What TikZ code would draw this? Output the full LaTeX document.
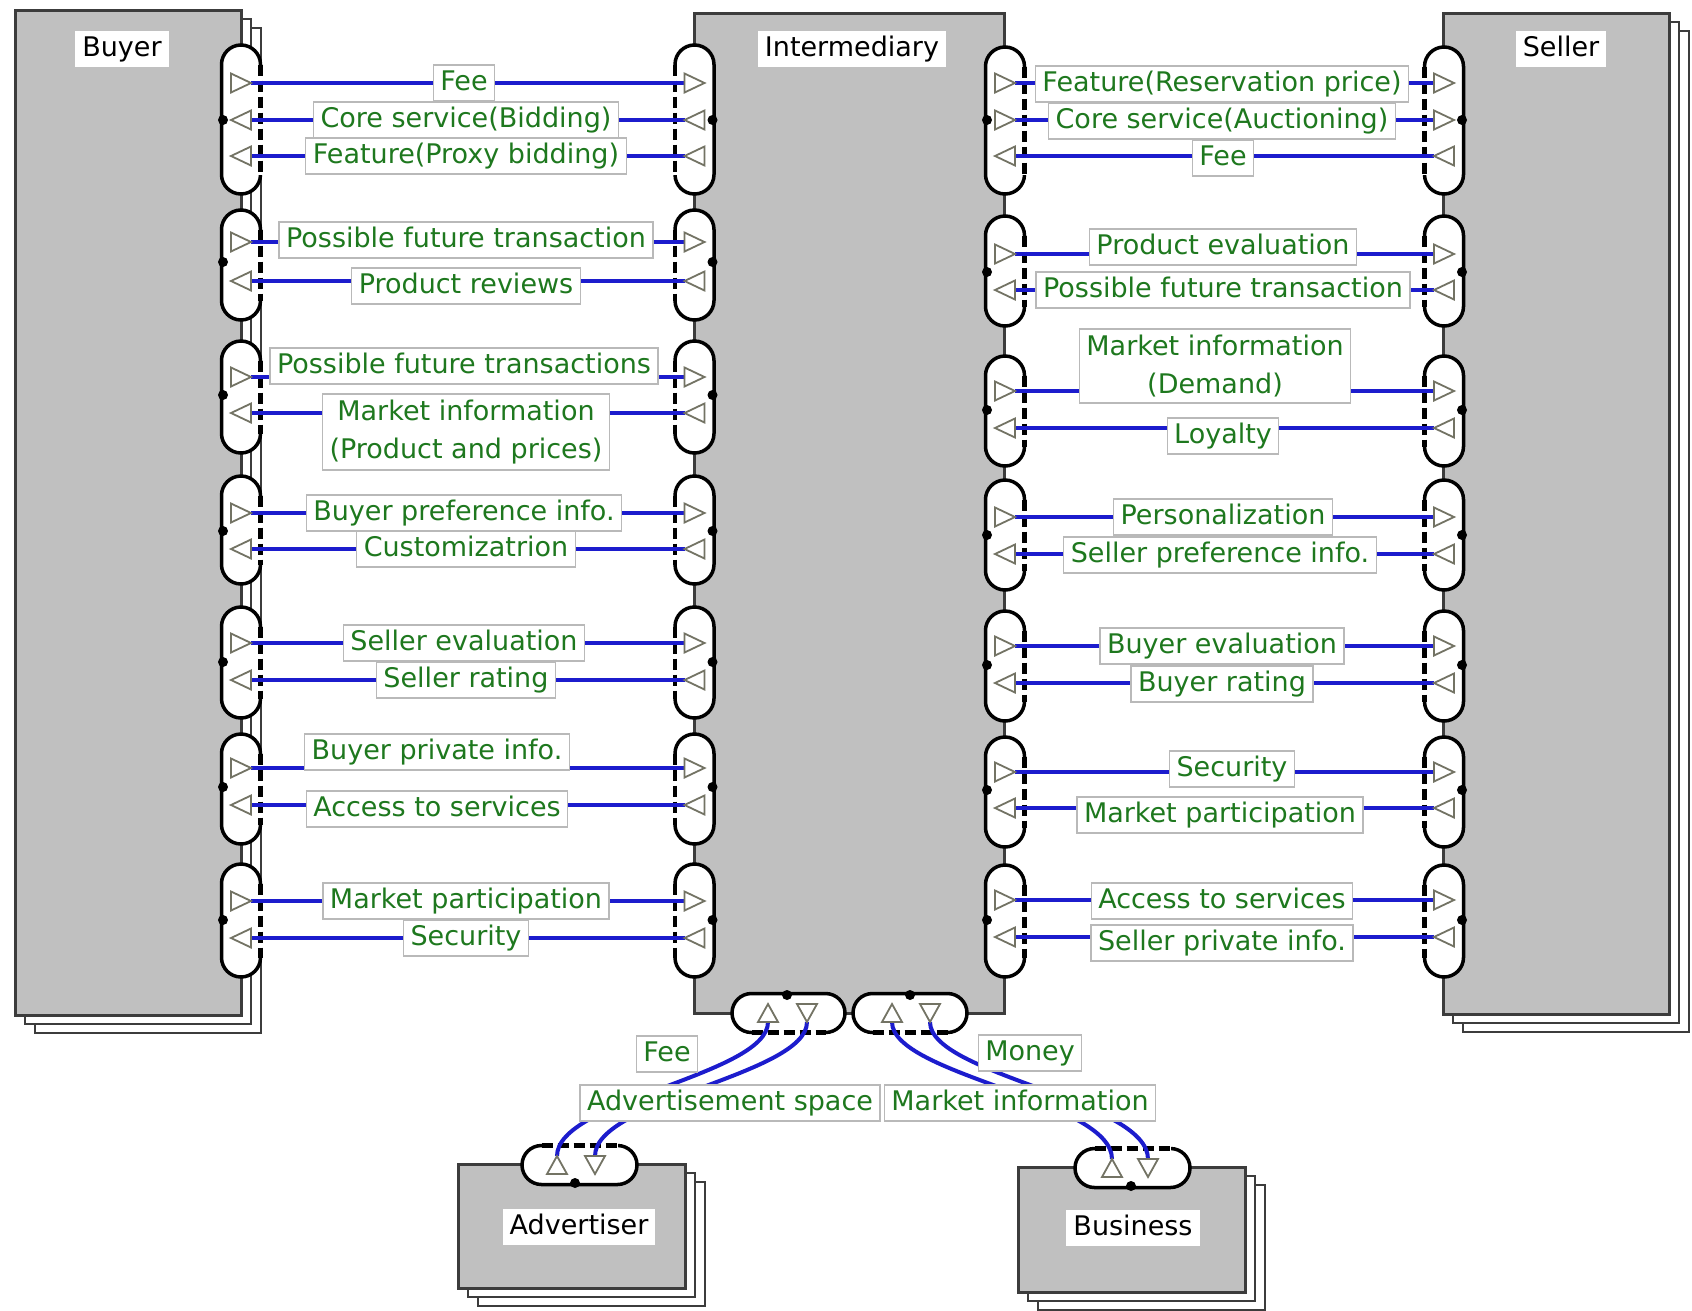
\documentclass[tikz,border=0pt]{standalone}
\usepackage{fontspec}
\newfontfamily\dv{DejaVu Sans}
\definecolor{boxgray}{RGB}{192,192,192}
\definecolor{edgec}{RGB}{60,60,60}
\definecolor{flowblue}{RGB}{28,28,205}
\definecolor{lblgreen}{RGB}{30,120,30}
\definecolor{lblborder}{RGB}{185,185,185}
\definecolor{trigray}{RGB}{115,115,100}

\newcommand\stackbox[4]{%
  \draw[entback] ({#1+20},{#2+18}) rectangle ({#3+20},{#4+18});
  \draw[entback] ({#1+10},{#2+9}) rectangle ({#3+10},{#4+9});
  \draw[ent] (#1,#2) rectangle (#3,#4);}
% vertical capsule: center x, top, bottom, dashed side (+1 right, -1 left), dot y
\newcommand\Vcap[5]{%
  \draw[capln,fill=white,rounded corners=19.5pt] ({#1-19.5},#2) rectangle ({#1+19.5},#3);
  \draw[white,line width=5pt] ({#1+(#4)*19.5},{#2+19.5}) -- ({#1+(#4)*19.5},{#3-19.5});
  \draw[capln,capdash] ({#1+(#4)*19.5},{#2+19.5}) -- ({#1+(#4)*19.5},{#3-19.5});
  \fill ({#1-(#4)*18},#5) circle (5);}
% horizontal capsule: left, right, center y, dashed side (+1 bottom, -1 top), dot x
\newcommand\Hcap[5]{%
  \draw[capln,fill=white,rounded corners=19.5pt] (#1,{#3-19.5}) rectangle (#2,{#3+19.5});
  \draw[white,line width=5pt] ({#1+19.5},{#3+(#4)*19.5}) -- ({#2-19.5},{#3+(#4)*19.5});
  \draw[capln,capdash] ({#1+19.5},{#3+(#4)*19.5}) -- ({#2-19.5},{#3+(#4)*19.5});
  \fill (#5,{#3-(#4)*18}) circle (5);}
\newcommand\mytriR[2]{\draw[tri] ({#1-10},{#2-9.5}) -- ({#1+10},#2) -- ({#1-10},{#2+9.5}) -- cycle;}
\newcommand\mytriL[2]{\draw[tri] ({#1+10},{#2-9.5}) -- ({#1-10},#2) -- ({#1+10},{#2+9.5}) -- cycle;}
\newcommand\mytriU[2]{\draw[tri] ({#1-10},{#2+9}) -- (#1,{#2-9}) -- ({#1+10},{#2+9}) -- cycle;}
\newcommand\mytriD[2]{\draw[tri] ({#1-10},{#2-9}) -- (#1,{#2+9}) -- ({#1+10},{#2-9}) -- cycle;}

\begin{document}
\begin{tikzpicture}[x=1pt,y=-1pt,
  ent/.style={fill=boxgray,draw=edgec,line width=3pt},
  entback/.style={fill=white,draw=edgec,line width=2.5pt},
  capln/.style={draw=black,line width=3.5pt},
  capdash/.style={line width=4.5pt,dash pattern=on 11pt off 5pt},
  tri/.style={draw=trigray,line width=1.8pt,fill=white,line join=miter},
  flow/.style={draw=flowblue,line width=4pt},
  lbl/.style={draw=lblborder,line width=1.2pt,fill=white,text=lblgreen,font=\dv\fontsize{27}{38}\selectfont,inner xsep=7pt,inner ysep=5pt,text height=20pt,text depth=6pt},
  lbltwo/.style={draw=lblborder,line width=1.2pt,fill=white,text=lblgreen,font=\dv\fontsize{27}{38}\selectfont,inner xsep=7pt,inner ysep=6pt,align=center},
  ename/.style={fill=white,text=black,font=\dv\fontsize{27}{38}\selectfont,inner xsep=7pt,inner ysep=5pt,text height=20pt,text depth=6pt}]
\fill[white] (0,0) rectangle (1692,1310);
\useasboundingbox (0,0) rectangle (1692,1310);

% entities
\stackbox{15}{10}{241}{1015}
\stackbox{1443}{13}{1669}{1014}
\stackbox{458}{1164}{685}{1288}
\stackbox{1018}{1167}{1245}{1292}
\draw[ent] (694,13) rectangle (1004,1013);

% vertical capsules
\foreach \t/\b/\d in {45/194/120,210/320/262,341/453/395,476/584/531,607/718/662,734/844/787,864/977/920}{
  \Vcap{241}{\t}{\b}{1}{\d}
  \Vcap{694.5}{\t}{\b}{-1}{\d}}
\foreach \t/\b/\d in {47/194/120,216/326/272,356/466/410,480/590/535,611/721/665,737/847/790,865/977/920}{
  \Vcap{1005}{\t}{\b}{1}{\d}
  \Vcap{1444}{\t}{\b}{-1}{\d}}
% horizontal capsules
\Hcap{732}{845}{1013}{1}{787}
\Hcap{853}{967}{1013}{1}{910}
\Hcap{522}{637}{1165}{-1}{575}
\Hcap{1075}{1190}{1168}{-1}{1131}

% left flows
\foreach \y [count=\k] in {83,242,377,513,643,768,901}{
  \coordinate (bR\k) at (251,\y); \coordinate (iR\k) at (684.5,\y);
  \draw[flow] (bR\k) -- (iR\k);
  \mytriR{241}{\y} \mytriR{694.5}{\y}}
\foreach \y [count=\k] in {120,156,281,413,549,680,805,938}{
  \coordinate (bL\k) at (251,\y); \coordinate (iL\k) at (684.5,\y);
  \draw[flow] (bL\k) -- (iL\k);
  \mytriL{241}{\y} \mytriL{694.5}{\y}}
% right flows
\foreach \y [count=\k] in {83,120,254,391,517,646,772,900}{
  \coordinate (jR\k) at (1015,\y); \coordinate (sR\k) at (1434,\y);
  \draw[flow] (jR\k) -- (sR\k);
  \mytriR{1005}{\y} \mytriR{1444}{\y}}
\foreach \y [count=\k] in {156,290,428,554,683,808,937}{
  \coordinate (jL\k) at (1015,\y); \coordinate (sL\k) at (1434,\y);
  \draw[flow] (jL\k) -- (sL\k);
  \mytriL{1005}{\y} \mytriL{1444}{\y}}

% bottom flows
\coordinate (iaU) at (768,1022); \coordinate (iaD) at (807,1022);
\coordinate (adU) at (557,1156); \coordinate (adD) at (595,1156);
\coordinate (ibU) at (892,1022); \coordinate (ibD) at (930,1022);
\coordinate (buU) at (1112,1159); \coordinate (buD) at (1148,1159);
\draw[flow] (iaU) .. controls (768,1075) and (557,1100) .. (adU);
\draw[flow] (iaD) .. controls (807,1075) and (595,1100) .. (adD);
\draw[flow] (ibU) .. controls (892,1075) and (1112,1100) .. (buU);
\draw[flow] (ibD) .. controls (930,1075) and (1148,1100) .. (buD);
\mytriU{768}{1013} \mytriD{807}{1013}
\mytriU{892}{1013} \mytriD{930}{1013}
\mytriU{557}{1165} \mytriD{595}{1165}
\mytriU{1112}{1168} \mytriD{1148}{1168}

% left labels
\node[lbl] (lFee) at (464,83) {Fee};
\node[lbl] (lCore) at (466,120) {Core service(Bidding)};
\node[lbl] (lFeat) at (466,156) {Feature(Proxy bidding)};
\node[lbl] (lPft) at (466,240) {Possible future transaction};
\node[lbl] (lPr) at (466,286) {Product reviews};
\node[lbl] (lPfts) at (464,366) {Possible future transactions};
\node[lbltwo] (lMi) at (466,432) {Market information\\(Product and prices)};
\node[lbl] (lBpi) at (464,513) {Buyer preference info.};
\node[lbl] (lCust) at (466,549) {Customizatrion};
\node[lbl] (lSe) at (464,643) {Seller evaluation};
\node[lbl] (lSr) at (466,680) {Seller rating};
\node[lbl] (lBpriv) at (437,752) {Buyer private info.};
\node[lbl] (lAcc) at (437,809) {Access to services};
\node[lbl] (lMp) at (466,901) {Market participation};
\node[lbl] (lSec) at (466,938) {Security};
% right labels
\node[lbl] (rFeat) at (1222,84) {Feature(Reservation price)};
\node[lbl] (rCore) at (1222,121) {Core service(Auctioning)};
\node[lbl] (rFee) at (1223,158) {Fee};
\node[lbl] (rPe) at (1223,247) {Product evaluation};
\node[lbl] (rPft) at (1223,290) {Possible future transaction};
\node[lbltwo] (rMi) at (1215,366) {Market information\\(Demand)};
\node[lbl] (rLoy) at (1223,436) {Loyalty};
\node[lbl] (rPers) at (1223,517) {Personalization};
\node[lbl] (rSpi) at (1220,555) {Seller preference info.};
\node[lbl] (rBe) at (1222,646) {Buyer evaluation};
\node[lbl] (rBr) at (1222,684) {Buyer rating};
\node[lbl] (rSec) at (1232,769) {Security};
\node[lbl] (rMp) at (1220,815) {Market participation};
\node[lbl] (rAcc) at (1222,901) {Access to services};
\node[lbl] (rSpriv) at (1222,943) {Seller private info.};
% bottom labels
\node[lbl] (bFee) at (667,1054) {Fee};
\node[lbl] (bMoney) at (1030,1053) {Money};
\node[lbl] (bAdv) at (730,1103) {Advertisement space};
\node[lbl] (bMi) at (1020,1103) {Market information};

% entity names
\node[ename] (nBuyer) at (122,49) {Buyer};
\node[ename] (nInt) at (852,49) {Intermediary};
\node[ename] (nSeller) at (1561,49) {Seller};
\node[ename] (nAdv) at (579,1227) {Advertiser};
\node[ename] (nBus) at (1133,1228) {Business};
\end{tikzpicture}
\end{document}
